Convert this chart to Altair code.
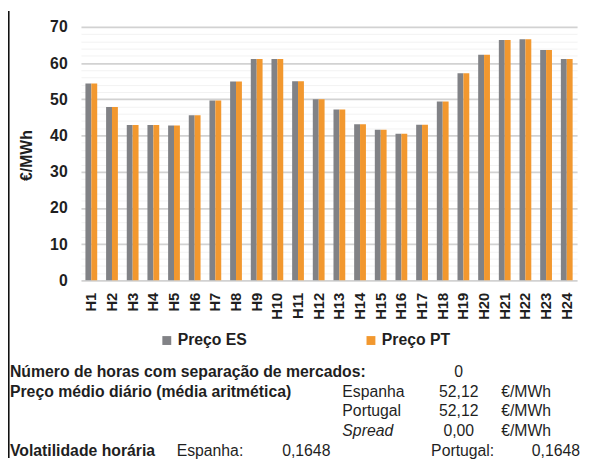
import altair as alt
import pandas as pd

hours = [f"H{i}" for i in range(1, 25)]
preco_es = [54.4, 47.9, 42.9, 42.9, 42.8, 45.6, 49.7, 54.9, 61.1, 61.1, 55.0, 50.0,
            47.2, 43.1, 41.6, 40.5, 43.0, 49.4, 57.2, 62.3, 66.4, 66.6, 63.6, 61.1]
preco_pt = list(preco_es)
series = ["Preço ES", "Preço PT"]
colors = ["#818286", "#F2982F"]

sep_label = "Número de horas com separação de mercados:"
sep_value = "0"
avg_label = "Preço médio diário (média aritmética)"
avg_names = ["Espanha", "Portugal", "Spread"]
avg_values = ["52,12", "52,12", "0,00"]
unit = "€/MWh"
vol_label = "Volatilidade horária"
vol_names = ["Espanha:", "Portugal:"]
vol_values = ["0,1648", "0,1648"]

rows = []
for h, a, b in zip(hours, preco_es, preco_pt):
    rows.append({"hour": h, "series": series[0], "value": a})
    rows.append({"hour": h, "series": series[1], "value": b})
df = pd.DataFrame(rows)

FONT = "Liberation Sans"
TXT = "#1f1f1f"
FS = 16

bars = alt.Chart(df).mark_bar().encode(
    x=alt.X("hour:N", sort=hours,
            scale=alt.Scale(paddingInner=0.43, paddingOuter=0.215),
            axis=alt.Axis(title=None, labelAngle=270, labelFontSize=15, labelFontWeight="bold",
                          labelColor=TXT, labelPadding=12, ticks=False, domain=False, grid=False)),
    xOffset=alt.XOffset("series:N", sort=series, scale=alt.Scale(paddingInner=0, paddingOuter=0)),
    y=alt.Y("value:Q", scale=alt.Scale(domain=[0, 70], nice=False),
            axis=alt.Axis(values=list(range(0, 71, 2)),
                          labelExpr="datum.value % 10 === 0 ? datum.label : ''",
                          labelOverlap=False,
                          labelFontSize=FS, labelFontWeight="bold", labelColor=TXT,
                          labelPadding=14, ticks=False, tickSize=0, domain=False,
                          gridColor={"condition": {"test": "datum.value % 10 === 0", "value": "#d2d2d2"},
                                     "value": "#f2f2f2"},
                          gridWidth={"condition": {"test": "datum.value % 10 === 0", "value": 1.6},
                                     "value": 1},
                          title="€/MWh", titleFontSize=FS, titleFontWeight="bold", titleColor=TXT,
                          titleX=-55, titleY=130, titleAlign="center", titleBaseline="middle")),
    color=alt.Color("series:N", sort=series, scale=alt.Scale(domain=series, range=colors),
                    legend=alt.Legend(title=None, orient="none", legendX=79, legendY=310,
                                      direction="horizontal", symbolType="square", symbolSize=81,
                                      symbolStrokeWidth=0, labelFontSize=FS, labelFontWeight="bold",
                                      labelColor=TXT, labelOffset=3, columnPadding=117, padding=0)),
)

one = pd.DataFrame({"k": [0]})


def txt(s, x, y, align="left", bold=False, italic=False):
    kw = {}
    if bold:
        kw["fontWeight"] = "bold"
    if italic:
        kw["fontStyle"] = "italic"
    return alt.Chart(one).mark_text(align=align, baseline="middle", fontSize=FS, color=TXT,
                                    font=FONT, **kw).encode(
        x=alt.value(x), y=alt.value(y), text=alt.value(s))


row_y = [350, 370, 390, 410, 430]
texts = [
    txt(sep_label, -72, row_y[0], bold=True),
    txt(sep_value, 383, row_y[0], align="center"),
    txt(avg_label, -72, row_y[1], bold=True),
]
for i in range(3):
    texts.append(txt(avg_names[i], 265, row_y[1 + i], italic=(i == 2)))
    texts.append(txt(avg_values[i], 383, row_y[1 + i], align="center"))
    texts.append(txt(unit, 426, row_y[1 + i]))
texts += [
    txt(vol_label, -72, row_y[4], bold=True),
    txt(vol_names[0], 97, row_y[4]),
    txt(vol_values[0], 204, row_y[4]),
    txt(vol_names[1], 355, row_y[4]),
    txt(vol_values[1], 506, row_y[4], align="right"),
]

border = alt.Chart(one).mark_rule(color="#111111", strokeWidth=1.6).encode(
    x=alt.value(-73.2), y=alt.value(-16), y2=alt.value(437))

chart = alt.layer(bars, *texts, border).properties(
    width=503, height=257,
    autosize=alt.AutoSizeParams(type="none"),
    padding={"left": 74, "top": 16, "right": 6, "bottom": 180},
).configure(font=FONT).configure_view(stroke=None)

chart.save("out.html", embed_options={"renderer": "svg", "actions": False})
